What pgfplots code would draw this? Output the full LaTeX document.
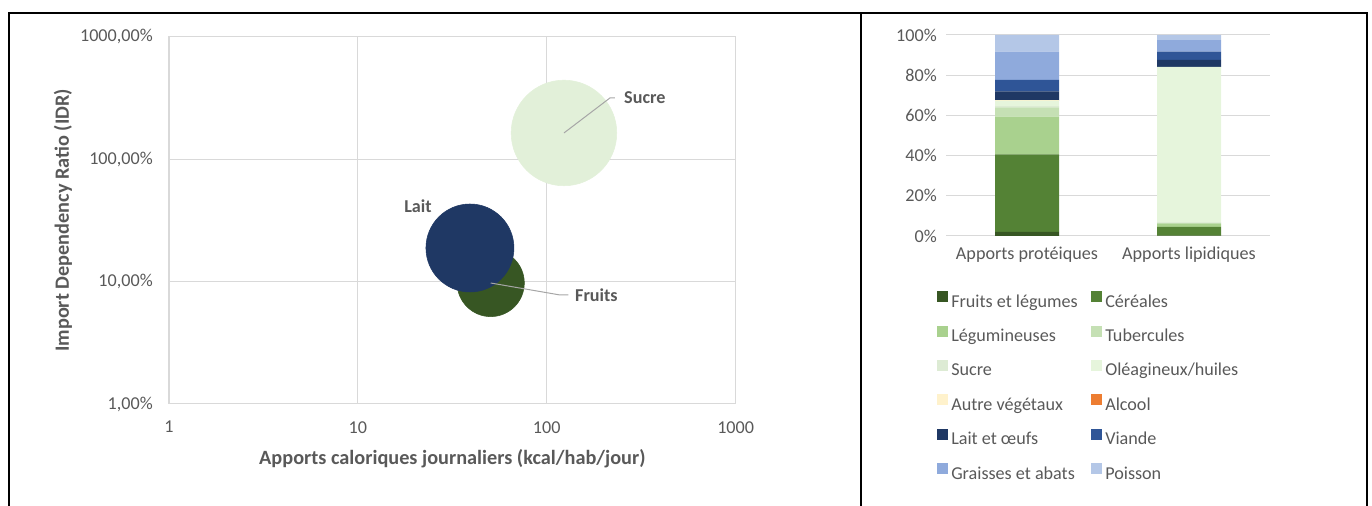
\documentclass[border=0pt]{standalone}
\usepackage{fontspec}
\setmainfont{Carlito}
\usepackage{pgfplots}
\usepackage{pgfplotstable}
\pgfplotsset{compat=1.18}
\definecolor{txt}{HTML}{595959}
\definecolor{gridc}{HTML}{D9D9D9}
\definecolor{leader}{HTML}{A6A6A6}
\definecolor{cfl}{HTML}{375623}
\definecolor{ccer}{HTML}{548235}
\definecolor{cleg}{HTML}{A9D18E}
\definecolor{ctub}{HTML}{C5E0B4}
\definecolor{csuc}{HTML}{DDEBD4}
\definecolor{cole}{HTML}{E6F5DC}
\definecolor{caut}{HTML}{FFF2CC}
\definecolor{calc}{HTML}{ED7D31}
\definecolor{clait}{HTML}{1F3864}
\definecolor{cvia}{HTML}{2F5597}
\definecolor{cgra}{HTML}{8FAADC}
\definecolor{cpoi}{HTML}{B4C7E7}
\definecolor{bsucre}{HTML}{E2F0D9}
\newcommand{\fs}{\fontsize{13.6pt}{16pt}\selectfont}
\newcommand{\fl}{\fontsize{15.2pt}{18pt}\selectfont}
\pgfplotsset{sqlegend/.style={legend image code/.code={\fill[##1,draw=none] (0pt,0.3pt) rectangle (8.25pt,8.55pt);}}}

\pgfplotstableread{
x fl cer leg tub suc ole aut alc lait via gra poi
0 2.0 38.6 18.8 4.6 0.6 2.7 0.2 0 4.4 5.8 14.0 8.3
1 0.2 4.4 1.4 0.6 0.2 77.4 0 0 3.4 4.1 5.8 2.5
}\bars

\begin{document}
\begin{tikzpicture}
\path[use as bounding box] (0,0) rectangle (1029pt,379.5pt);
\draw[line width=1.5pt] (6.75pt,0) -- (6.75pt,369.75pt) -- (1025.25pt,369.75pt) -- (1025.25pt,0);
\draw[line width=1.5pt] (645.75pt,0) -- (645.75pt,369.75pt);

\begin{axis}[at={(126.75pt,76.5pt)}, anchor=south west, scale only axis,
  width=425pt, height=275.5pt,
  xmode=log, ymode=log, xmin=1, xmax=1000, ymin=1, ymax=1000,
  xtick={1,10,100,1000}, xticklabels={1,10,100,1000},
  ytick={1,10,100,1000}, yticklabels={{1,00\%},{10,00\%},{100,00\%},{1000,00\%}},
  xminorticks=false, yminorticks=false,
  grid=major, major grid style={gridc, line width=0.75pt},
  axis line style={gridc, line width=0.75pt},
  major tick length=0pt,
  tick label style={font=\fs, text=txt, inner sep=0pt},
  xticklabel shift=12.75pt, yticklabel shift=12pt,
  xlabel={Apports caloriques journaliers (kcal/hab/jour)},
  ylabel={Import Dependency Ratio (IDR)},
  label style={font=\fl\bfseries, text=txt},
  xlabel style={at={(axis description cs:0.5,-0.1497)}, anchor=center},
  ylabel style={at={(axis description cs:-0.187,0.5)}, anchor=center},
  clip=false, clip marker paths=true,
]
\addplot[only marks, mark=*, mark size=39.6pt, mark options={draw=bsucre, fill=bsucre}] coordinates {(123.3,163.5)};
\addplot[only marks, mark=*, mark size=25.2pt, mark options={draw=cfl, fill=cfl}] coordinates {(50.5,9.73)};
\addplot[only marks, mark=*, mark size=33pt, mark options={draw=clait, fill=clait}] coordinates {(39.2,18.8)};
\draw[leader, line width=0.75pt] (axis cs:123.3,163.5) -- (axis cs:216,315.8) -- (axis cs:229.6,315.8);
\draw[leader, line width=0.75pt] (axis cs:50.5,9.73) -- (axis cs:117.5,7.77) -- (axis cs:130,7.77);
\node[font=\fs\bfseries, text=txt, anchor=west, inner sep=0pt, xshift=6.75pt] at (axis cs:229.6,315.8) {Sucre};
\node[font=\fs\bfseries, text=txt, anchor=west, inner sep=0pt, xshift=5pt] at (axis cs:130,7.77) {Fruits};
\node[font=\fs\bfseries, text=txt, anchor=center, inner sep=0pt] at (axis cs:20.8,41.4) {Lait};
\end{axis}

\begin{axis}[at={(709.5pt,202.5pt)}, anchor=south west, scale only axis,
  width=243pt, height=150.75pt,
  ybar stacked, bar width=48pt, xmin=-0.5, xmax=1.5, ymin=0, ymax=100,
  xtick={0,1}, xticklabels={Apports protéiques, Apports lipidiques},
  ytick={0,20,40,60,80,100}, yticklabels={0\%,20\%,40\%,60\%,80\%,100\%},
  ymajorgrids, major grid style={gridc, line width=0.75pt},
  axis line style={draw=none}, major tick length=0pt,
  tick label style={font=\fs, text=txt, inner sep=0pt},
  xticklabel style={text height=0.75em, text depth=0.25em},
  xticklabel shift=10.3pt, yticklabel shift=6.75pt,
  every axis plot post/.append style={sqlegend},
  legend columns=2,
  legend style={at={(axis description cs:-0.0278,-0.2736)}, anchor=north west,
    draw=none, fill=none, inner sep=0pt, font=\fs, text=txt,
    /tikz/column sep=2.25pt, /tikz/row sep=10.95pt,
    nodes={inner sep=0pt, text height=9.6pt, text depth=3pt, text=txt, anchor=west}},
  legend cell align=left,
]
\addplot[fill=cfl, draw=none] table[x=x,y=fl]{\bars};
\addlegendentry{\makebox[102.75pt][l]{Fruits et légumes}}
\addplot[fill=ccer, draw=none] table[x=x,y=cer]{\bars};
\addlegendentry{Céréales}
\addplot[fill=cleg, draw=none] table[x=x,y=leg]{\bars};
\addlegendentry{\makebox[102.75pt][l]{Légumineuses}}
\addplot[fill=ctub, draw=none] table[x=x,y=tub]{\bars};
\addlegendentry{Tubercules}
\addplot[fill=csuc, draw=none] table[x=x,y=suc]{\bars};
\addlegendentry{\makebox[102.75pt][l]{Sucre}}
\addplot[fill=cole, draw=none] table[x=x,y=ole]{\bars};
\addlegendentry{Oléagineux/huiles}
\addplot[fill=caut, draw=none] table[x=x,y=aut]{\bars};
\addlegendentry{\makebox[102.75pt][l]{Autre végétaux}}
\addplot[fill=calc, draw=none] table[x=x,y=alc]{\bars};
\addlegendentry{Alcool}
\addplot[fill=clait, draw=none] table[x=x,y=lait]{\bars};
\addlegendentry{\makebox[102.75pt][l]{Lait et œufs}}
\addplot[fill=cvia, draw=none] table[x=x,y=via]{\bars};
\addlegendentry{Viande}
\addplot[fill=cgra, draw=none] table[x=x,y=gra]{\bars};
\addlegendentry{\makebox[102.75pt][l]{Graisses et abats}}
\addplot[fill=cpoi, draw=none] table[x=x,y=poi]{\bars};
\addlegendentry{Poisson}
\end{axis}
\end{tikzpicture}
\end{document}
